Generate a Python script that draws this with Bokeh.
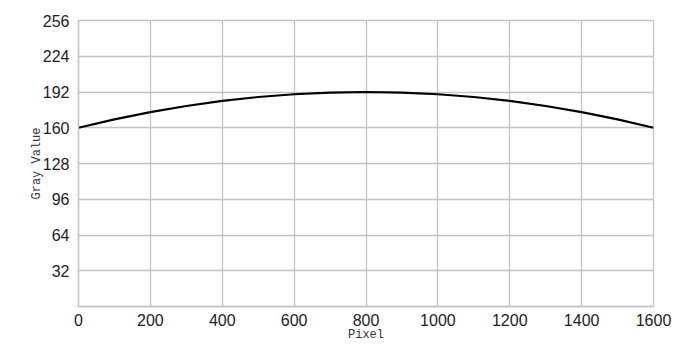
from bokeh.plotting import figure
from bokeh.models import FixedTicker, Range1d
from bokeh.embed import file_html
from bokeh.resources import INLINE

pixel = [0, 100, 200, 300, 400, 500, 600, 700, 800, 900, 1000, 1100, 1200, 1300, 1400, 1500, 1600]
gray = [160, 167.5, 174, 179.5, 184, 187.5, 190, 191.5, 192, 191.5, 190, 187.5, 184, 179.5, 174, 167.5, 160]
x_ticks = [0, 200, 400, 600, 800, 1000, 1200, 1400, 1600]
y_ticks = [32, 64, 96, 128, 160, 192, 224, 256]

p = figure(output_backend="svg", toolbar_location=None,
           frame_width=575, frame_height=286,
           min_border_left=78, min_border_top=20, min_border_right=27, min_border_bottom=30,
           x_range=Range1d(0, 1600), y_range=Range1d(0, 256))

p.line(pixel, gray, line_color="black", line_width=2.2)

grid_col = "#c4c4c4"
p.xaxis.ticker = FixedTicker(ticks=x_ticks)
p.yaxis.ticker = FixedTicker(ticks=y_ticks)
p.xgrid.ticker = FixedTicker(ticks=x_ticks)
p.ygrid.ticker = FixedTicker(ticks=y_ticks)
p.xgrid.grid_line_color = grid_col
p.ygrid.grid_line_color = grid_col
p.xgrid.grid_line_width = 1.3
p.ygrid.grid_line_width = 1.3
p.outline_line_color = grid_col
p.outline_line_width = 1.3

for ax in (p.xaxis, p.yaxis):
    ax.axis_line_color = grid_col
    ax.axis_line_width = 1.3
    ax.major_tick_line_color = None
    ax.minor_tick_line_color = None
    ax.major_label_text_font = "Liberation Sans"
    ax.major_label_text_font_size = "16px"
    ax.major_label_text_color = "#222222"
    ax.axis_label_text_font = "Liberation Mono"
    ax.axis_label_text_font_size = "12px"
    ax.axis_label_text_font_style = "normal"
    ax.axis_label_text_color = "#333333"

p.xaxis.axis_label = "Pixel"
p.yaxis.axis_label = "Gray Value"
p.xaxis.major_label_standoff = 1
p.yaxis.major_label_standoff = 3
p.xaxis.axis_label_standoff = -1
p.yaxis.axis_label_standoff = -4
p.background_fill_color = "white"
p.border_fill_color = "white"

open("out.html", "w").write(file_html(p, INLINE))
